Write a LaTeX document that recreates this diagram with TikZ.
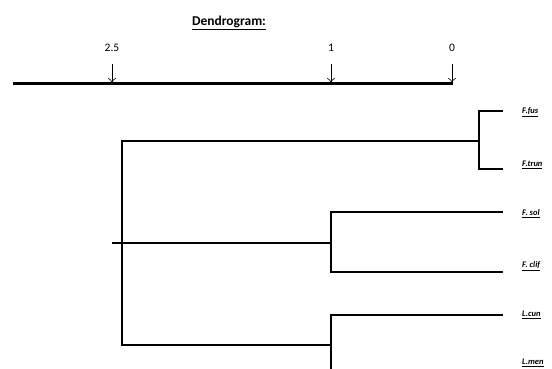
\documentclass[tikz,border=0pt]{standalone}
\usepackage{fontspec}
\setmainfont{Carlito}
\usetikzlibrary{arrows.meta}
\begin{document}
\begin{tikzpicture}[x=1pt,y=-1pt,
  branch/.style={line width=1.6pt,line join=miter},
  axisline/.style={line width=2.8pt},
  tickarrow/.style={-{To[length=5pt,width=8pt]},line width=0.6pt},
  ticklab/.style={font=\fontsize{11.5}{13}\selectfont,inner sep=0},
  leaflab/.style={font=\fontsize{8.5}{10}\selectfont\bfseries\itshape,anchor=west,inner sep=0}]
\useasboundingbox (0,0) rectangle (552,369);
% title
\node[inner sep=0] (title) at (229,23) {\fontsize{13.5}{15}\selectfont\bfseries\underline{Dendrogram:}};
% axis
\coordinate (axL) at (13,83.5);
\coordinate (axR) at (453,83.5);
\draw[axisline] (axL) -- (axR);
\node[ticklab] (t25) at (112,48) {2.5};
\node[ticklab] (t1) at (331,48) {1};
\node[ticklab] (t0) at (452,48) {0};
\coordinate (a25s) at (112,64); \coordinate (a25e) at (112,83);
\coordinate (a1s) at (331,64);  \coordinate (a1e) at (331,83);
\coordinate (a0s) at (452,64);  \coordinate (a0e) at (452,83);
\draw[tickarrow] (a25s) -- (a25e);
\draw[tickarrow] (a1s) -- (a1e);
\draw[tickarrow] (a0s) -- (a0e);
% leaf labels
\node[leaflab] (fus) at (522,112) {\underline{F.fus}};
\node[leaflab] (trun) at (522,165) {\underline{F.trun}};
\node[leaflab] (sol) at (522,214) {\underline{F. sol}};
\node[leaflab] (clif) at (522,266) {\underline{F. clif}};
\node[leaflab] (cun) at (522,315) {\underline{L.cun}};
\node[leaflab] (men) at (522,363) {\underline{L.men}};
% leaf ends
\coordinate (efus) at (503,111);
\coordinate (etrun) at (503,169);
\coordinate (esol) at (503,212);
\coordinate (eclif) at (503,272);
\coordinate (ecun) at (503,315);
% junctions
\coordinate (jF1) at (479,111); \coordinate (jF2) at (479,169); \coordinate (jFm) at (479,141);
\coordinate (jS1) at (331,212); \coordinate (jS2) at (331,272); \coordinate (jSm) at (331,243);
\coordinate (jL1) at (331,315); \coordinate (jL2) at (331,369); \coordinate (jLm) at (331,345);
\coordinate (rT) at (122,141); \coordinate (rB) at (122,345); \coordinate (rstub) at (112,243);
% clusters
\draw[branch] (efus) -- (jF1) -- (jF2) -- (etrun);
\draw[branch] (esol) -- (jS1) -- (jS2) -- (eclif);
\draw[branch] (ecun) -- (jL1) -- (jL2);
% root
\draw[branch] (jFm) -- (rT) -- (rB) -- (jLm);
\draw[branch] (rstub) -- (jSm);
\end{tikzpicture}
\end{document}
